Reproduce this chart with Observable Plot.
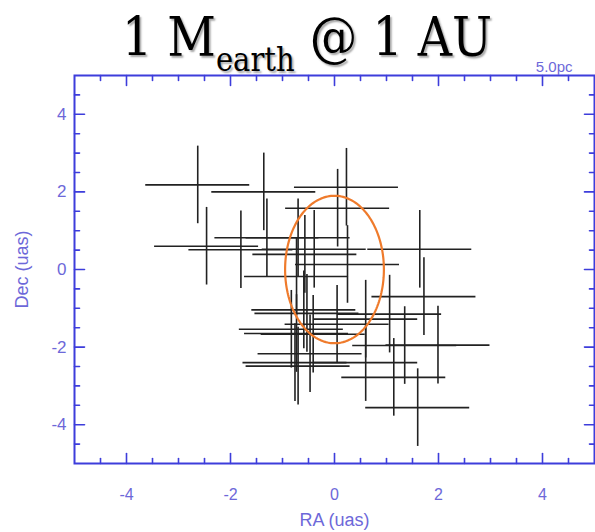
<!DOCTYPE html>
<html>
<head>
<meta charset="utf-8">
<script src="https://cdn.jsdelivr.net/npm/d3@7"></script>
<script src="https://cdn.jsdelivr.net/npm/@observablehq/plot@0.6"></script>
<style>
  html, body { margin: 0; padding: 0; background: #fff; }
  #wrap { width: 595px; height: 532px; position: relative; overflow: hidden; }
  #title {
    position: relative; height: 50px; width: 595px; overflow: visible; z-index: 1;
  }
  #title .t {
    position: absolute; left: 0; top: 11px; width: 595px; box-sizing: border-box;
    padding-left: 19px; text-align: center; white-space: nowrap;
    font-family: "DejaVu Serif", serif; font-size: 54px; line-height: 54px; color: #000;
    transform: scaleX(0.88); transform-origin: 307px 50%;
    text-shadow: 2px 2px 2px rgba(0,0,0,0.35);
  }
  #title .sub { font-size: 33px; position: relative; top: 15px; }
</style>
</head>
<body>
<div id="wrap">
  <div id="title"><div class="t">1 M<span class="sub">earth</span> @ 1 AU</div></div>
  <div id="chart"></div>
</div>
<script>
// Measured positions (RA, Dec) in micro-arcseconds
const ra  = [-2.63, -1.36, 0.23, 0.06, -1.30, -0.70, -2.46, -1.80, -0.39, -0.57, 0.25, -0.73, 1.64, 1.72, 1.06, 0.60, 0.60, 1.35, 1.99, 1.14, 1.60, 0.05, -0.59, -0.53, -0.83, -0.73, -0.70, -0.47, -0.41, -0.76];
const dec = [2.18, 2.00, 2.12, 1.58, 0.82, 0.82, 0.60, 0.51, 0.52, 0.39, 0.13, -0.18, 0.52, -0.70, -1.15, -1.28, -2.40, -1.96, -1.95, -2.78, -3.56, -1.41, -1.04, -1.13, -1.54, -1.65, -2.49, -2.17, -1.67, -2.40];
const sigmaRa = 1.0;
const sigmaDec = 1.0;

// Orbit ellipse parameters
const orbitCenter = [0, 0];
const orbitRadii = [0.95, 1.9];

const xMajor = [-4, -2, 0, 2, 4];
const yMajor = [-4, -2, 0, 2, 4];
const minorTicks = [-4.5, -3.5, -3, -2.5, -1.5, -1, -0.5, 0.5, 1, 1.5, 2.5, 3, 3.5, 4.5];
const xTickLabels = ["-4", "-2", "0", "2", "4"];
const yTickLabels = ["-4", "-2", "0", "2", "4"];

const frameColor = "#3d3ddb";
const textColor = "#6d68d9";
const crossColor = "#222";
const orbitColor = "#ef7b2c";

const points = ra.map((r, i) => ({ra: r, dec: dec[i]}));
const orbit = d3.range(0, 361, 2).map(a => {
  const t = a * Math.PI / 180;
  return {x: orbitCenter[0] + orbitRadii[0] * Math.cos(t), y: orbitCenter[1] + orbitRadii[1] * Math.sin(t)};
});

const tickLine = {draw(ctx, l) { ctx.moveTo(0, 0); ctx.lineTo(0, -l); }};
function ticks(values, axis, anchor, len) {
  const rot = {bottom: 0, top: 180, left: 90, right: -90}[anchor];
  return Plot.vector(values, {
    [axis]: d => d, frameAnchor: anchor, length: len, rotate: rot, anchor: "start",
    shape: tickLine, stroke: frameColor, strokeWidth: 1.6
  });
}

const chart = Plot.plot({
  width: 595,
  height: 482,
  marginTop: 25,
  marginBottom: 69,
  marginLeft: 74,
  marginRight: 1,
  style: {fontFamily: "'Liberation Sans', Arial, sans-serif", background: "transparent"},
  x: {domain: [-5, 5], axis: null},
  y: {domain: [-5, 5], axis: null},
  marks: [
    Plot.ruleY(points, {y: "dec", x1: d => d.ra - sigmaRa, x2: d => d.ra + sigmaRa, stroke: crossColor, strokeWidth: 1.6}),
    Plot.ruleX(points, {x: "ra", y1: d => d.dec - sigmaDec, y2: d => d.dec + sigmaDec, stroke: crossColor, strokeWidth: 1.6}),
    Plot.line(orbit, {x: "x", y: "y", stroke: orbitColor, strokeWidth: 2.2}),
    ticks(xMajor, "x", "bottom", 10), ticks(minorTicks, "x", "bottom", 5),
    ticks(xMajor, "x", "top", 10), ticks(minorTicks, "x", "top", 5),
    ticks(yMajor, "y", "left", 10), ticks(minorTicks, "y", "left", 5),
    ticks(yMajor, "y", "right", 10), ticks(minorTicks, "y", "right", 5),
    Plot.frame({stroke: frameColor, strokeWidth: 2}),
    Plot.text(xMajor, {x: d => d, text: (d, i) => xTickLabels[i], frameAnchor: "bottom", dy: 36, lineAnchor: "bottom", fill: textColor, fontSize: 16}),
    Plot.text(yMajor, {y: d => d, text: (d, i) => yTickLabels[i], frameAnchor: "left", dx: -8, textAnchor: "end", lineAnchor: "middle", fill: textColor, fontSize: 17}),
    Plot.text(["RA (uas)"], {frameAnchor: "bottom", dy: 62, lineAnchor: "bottom", fill: textColor, fontSize: 18}),
    Plot.text(["Dec (uas)"], {frameAnchor: "left", dx: -52, rotate: -90, lineAnchor: "middle", textAnchor: "middle", fill: textColor, fontSize: 18}),
    Plot.text(["5.0pc"], {frameAnchor: "top-right", dx: -22, dy: -4, textAnchor: "end", lineAnchor: "bottom", fill: textColor, fontSize: 15})
  ]
});
document.getElementById("chart").appendChild(chart);
</script>
</body>
</html>
